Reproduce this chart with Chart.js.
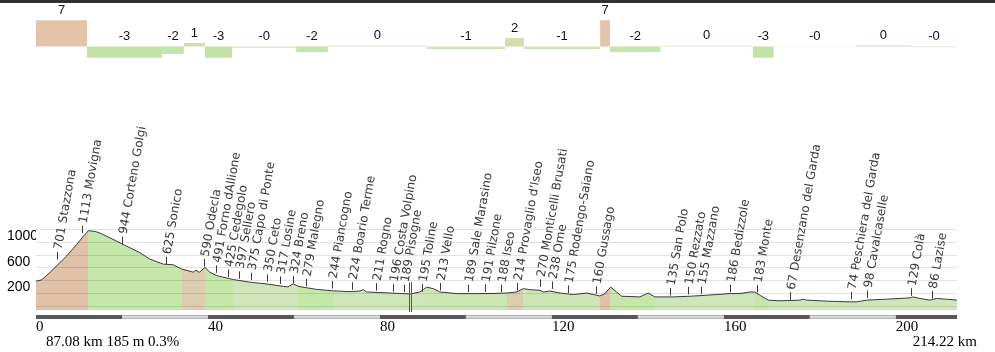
<!DOCTYPE html>
<html><head><meta charset="utf-8">
<script src="https://cdn.jsdelivr.net/npm/chart.js@4"></script>
<style>
html,body{margin:0;padding:0;background:#fff;}
#wrap{position:relative;width:995px;height:352px;overflow:hidden;background:#fff;}
canvas{position:absolute;left:0;top:0;}
.info{position:absolute;font:15px 'Liberation Serif','Times New Roman',serif;color:#000;line-height:15px;white-space:nowrap;}
</style></head><body>
<div id="wrap">
<canvas id="c" width="995" height="352"></canvas>
<div class="info" id="cursorInfo" style="left:46px;top:334px"></div>
<div class="info" id="totalInfo" style="right:18px;top:334px"></div>
</div>
<script>
// ---------- data ----------
const totalKm = 214.22;
const cursorKm = 87.08, cursorElev = 185, cursorGrade = 0.3;

const profileKm = [0,1.33,3.26,5.58,7.14,9.47,11.0,12.16,13.72,14.88,17.2,19.53,21.86,24.19,26.51,29.6,31.93,33.88,36.58,37.21,37.98,39.3,40.47,42.02,45.88,49.77,53.65,57.51,58.6,59.84,61.0,65.28,69.14,73.02,75.35,76.12,76.91,82.33,87.08,89.3,90.07,90.86,92.4,93.95,97.84,101.7,105.58,109.47,111.79,113.33,114.88,117.21,117.98,119.53,121.86,124.95,128.07,131.16,132.33,133.65,135.05,136.21,140.47,142.4,143.95,148.21,152.09,155.98,161.4,163.72,166.05,167.21,168.37,170.3,173.02,177.67,178.44,179.23,183.88,189.3,190.86,193.19,197.84,203.26,204.02,205.58,207.91,209.47,211.79,214.22];
const profileElev = [391,412,530,684,787,968,1096,1184,1173,1147,1073,993,916,838,736,659,648,582,533,564,530,607,530,479,417,375,347,309,301,350,309,262,239,227,236,258,221,205,190,221,258,298,273,221,196,196,196,205,221,273,258,247,221,236,205,181,205,159,196,298,221,154,144,205,144,144,154,170,196,196,221,221,170,93,82,93,108,93,77,66,66,93,108,128,144,119,93,119,108,93];

const gradeStartKm = [0,11.86,29.3,34.4,39.3,45.6,60.5,67.9,90.9,109.1,113.5,131.2,133.5,145.3,166.7,171.6,190.7,203.5];
const gradeValues  = [6.9,-3.0,-2.0,0.9,-3.0,-0.35,-1.45,0.25,-0.7,2.2,-0.7,6.9,-1.45,0.2,-3.0,-0.1,0.3,-0.2];
const gradeLabels  = ['7','-3','-2','1','-3','-0','-2','0','-1','2','-1','7','-2','0','-3','-0','0','-0'];

const placeKm   = [4.95,10.63,20.07,30.16,39.14,41.86,44.72,47.28,49.93,53.65,56.74,59.84,62.79,68.77,73.4,79.07,82.95,85.66,89.7,93.95,100.5,104.4,108.1,111.8,117.2,120.0,123.8,130.2,147.4,151.7,154.6,161.4,167.6,175.3,189.5,193.4,203.6,208.3];
const placeElev = [701,1113,944,625,590,491,425,397,375,350,317,324,279,244,224,211,196,189,195,213,189,191,188,214,270,238,175,160,135,150,155,186,183,67,74,98,129,86];
const placeName = ['Stazzona','Movigna','Corteno Golgi','Sonico','Odecla','Forno dAllione','Cedegolo','Sellero','Capo di Ponte','Ceto','Losine','Breno','Malegno','Piancogno','Boario Terme','Rogno','Costa Volpino','Pisogne','Toline','Vello','Sale Marasino','Pilzone','Iseo',"Provaglio d'Iseo",'Monticelli Brusati','Ome','Rodengo-Saiano','Gussago','San Polo','Rezzato','Mazzano','Bedizzole','Monte','Desenzano del Garda','Peschiera del Garda','Cavalcaselle','Colà','Lazise'];

const xTickValues = [0,40,80,120,160,200];
const elevGrid = [0,200,400,600,800,1000,1200];
const elevLabels = [200,600,1000];

// ---------- helpers ----------
function gradeAt(km){
  let idx = 0;
  for (let i=0;i<gradeStartKm.length;i++){ if (km >= gradeStartKm[i]) idx = i; }
  return gradeValues[idx];
}
function fillColorFor(v){
  if (v >= 4) return '#e2c2a7';
  if (v >= 0.5) return '#dccdae';
  if (v > -0.5) return '#d0e6ba';
  if (v > -1.25) return '#cce6b5';
  return '#c5e7aa';
}
function barColorFor(v){
  if (v >= 4) return '#e3c4a9';
  if (v >= 0.5) return '#d6dbb0';
  if (v > -0.5) return '#d6e3c6';
  if (v > -1.25) return '#cfe4bb';
  if (v > -2.5) return '#c6e4ae';
  return '#c1e4a4';
}

document.getElementById('cursorInfo').textContent = cursorKm.toFixed(2)+' km '+cursorElev+' m '+cursorGrade+'%';
document.getElementById('totalInfo').textContent = totalKm.toFixed(2)+' km';

const profilePoints = profileKm.map((k,i)=>({x:k, y:profileElev[i]}));
const gradePoints = gradeStartKm.map((k,i)=>({x:k,y:gradeValues[i]}));
gradePoints.push({x: totalKm, y: gradeValues[gradeValues.length-1]});

const decor = {
  id: 'decor',
  afterDraw(chart){
    const c = chart.ctx, xs = chart.scales.x, ys = chart.scales.y, yg = chart.scales.yg, a = chart.chartArea;
    c.save();
    // place ticks and labels
    c.font = "12px 'DejaVu Sans', sans-serif";
    c.fillStyle = '#3a3a3a';
    c.strokeStyle = '#3a3a3a';
    c.lineWidth = 1;
    c.textAlign = 'left';
    c.textBaseline = 'middle';
    for (let i=0;i<placeKm.length;i++){
      const px = Math.round(xs.getPixelForValue(placeKm[i])) + 0.5;
      const py = ys.getPixelForValue(placeElev[i]);
      c.beginPath(); c.moveTo(px, py-2); c.lineTo(px, py-9.5); c.stroke();
      c.save();
      c.translate(px+1, py-12);
      c.rotate(-80*Math.PI/180);
      c.fillText(placeElev[i]+' '+placeName[i], 0, 0);
      c.restore();
    }
    // grade labels
    c.font = "13px 'Liberation Sans', Arial, sans-serif";
    c.fillStyle = '#111';
    c.textAlign = 'center';
    c.textBaseline = 'alphabetic';
    const zero = yg.getPixelForValue(0);
    for (let i=0;i<gradeStartKm.length;i++){
      const k0 = gradeStartKm[i], k1 = (i+1<gradeStartKm.length)? gradeStartKm[i+1] : totalKm;
      const cx = (xs.getPixelForValue(k0)+xs.getPixelForValue(k1))/2;
      const top = Math.min(zero, yg.getPixelForValue(gradeValues[i]));
      c.fillText(gradeLabels[i], cx, top-6.5);
    }
    // cursor marker (double line)
    const mx = Math.round(xs.getPixelForValue(cursorKm));
    const my = ys.getPixelForValue(cursorElev)-12;
    c.strokeStyle = '#555';
    c.beginPath();
    c.moveTo(mx-0.5, my); c.lineTo(mx-0.5, a.bottom+2);
    c.moveTo(mx+1.5, my); c.lineTo(mx+1.5, a.bottom+2);
    c.stroke();
    // distance scale bar
    const by = a.bottom+5;
    for (let k=0;k<totalKm;k+=20){
      const x0 = xs.getPixelForValue(k), x1 = xs.getPixelForValue(Math.min(k+20,totalKm));
      if ((k/20)%2===0){ c.fillStyle='#575757'; c.fillRect(x0,by,x1-x0,4); }
      else { c.fillStyle='#b4b4b4'; c.fillRect(x0,by,x1-x0,4); c.fillStyle='#fafafa'; c.fillRect(x0,by+1.5,x1-x0,1); }
    }
    // top dark band
    c.fillStyle = '#303030';
    c.fillRect(0,0,chart.width,3);
    c.restore();
  }
};

new Chart(document.getElementById('c'), {
  type: 'line',
  data: { datasets: [
    { label:'Elevation', yAxisID:'y', data: profilePoints,
      borderColor:'#3c3c3c', borderWidth:1, pointRadius:0, tension:0,
      fill:'start', backgroundColor:'#d0e6ba',
      segment:{ backgroundColor: s => fillColorFor(gradeAt((s.p0.parsed.x+s.p1.parsed.x)/2)) } },
    { label:'Grade', yAxisID:'yg', data: gradePoints, stepped:'before',
      borderWidth:0, pointRadius:0, fill:'origin', backgroundColor:'#d6e3c6',
      segment:{ backgroundColor: s => barColorFor(s.p0.parsed.y) } },
    { label:'Base', yAxisID:'y', data: profilePoints,
      borderWidth:0, borderColor:'rgba(0,0,0,0)', pointRadius:0, tension:0,
      fill:'start', backgroundColor:'#cbe6b3' }
  ]},
  options: {
    responsive:false, animation:false, events:[], devicePixelRatio:1,
    layout:{ padding:{ left:7, right:38, top:3, bottom:0 } },
    plugins:{ legend:{display:false}, tooltip:{enabled:false} },
    scales:{
      x:{ type:'linear', min:0, max:totalKm, bounds:'data',
          afterBuildTicks: s => { s.ticks = xTickValues.map(v=>({value:v})); },
          afterFit: s => { s.height = 42; },
          grid:{ display:false, drawTicks:false }, border:{ display:false },
          ticks:{ align:'start', padding:8, maxRotation:0, autoSkip:false, color:'#000',
                  font:{ family:"'Liberation Serif', 'Times New Roman', serif", size:15 } } },
      y:{ type:'linear', min:-62, max:4678, bounds:'data',
          afterBuildTicks: s => { s.ticks = elevGrid.map(v=>({value:v})); },
          afterFit: s => { s.width = 29; },
          grid:{ color:'rgba(0,0,0,0.11)', z:1, drawTicks:false }, border:{ display:false },
          ticks:{ callback: v => elevLabels.includes(v) ? String(v) : '', crossAlign:'far', labelOffset:-6, padding:0,
                  color:'#000', font:{ family:"'Liberation Sans', Arial, sans-serif", size:14 } } },
      yg:{ type:'linear', display:false, min:-69.69, max:10.05 }
    }
  },
  plugins:[decor]
});
</script>
</body></html>
